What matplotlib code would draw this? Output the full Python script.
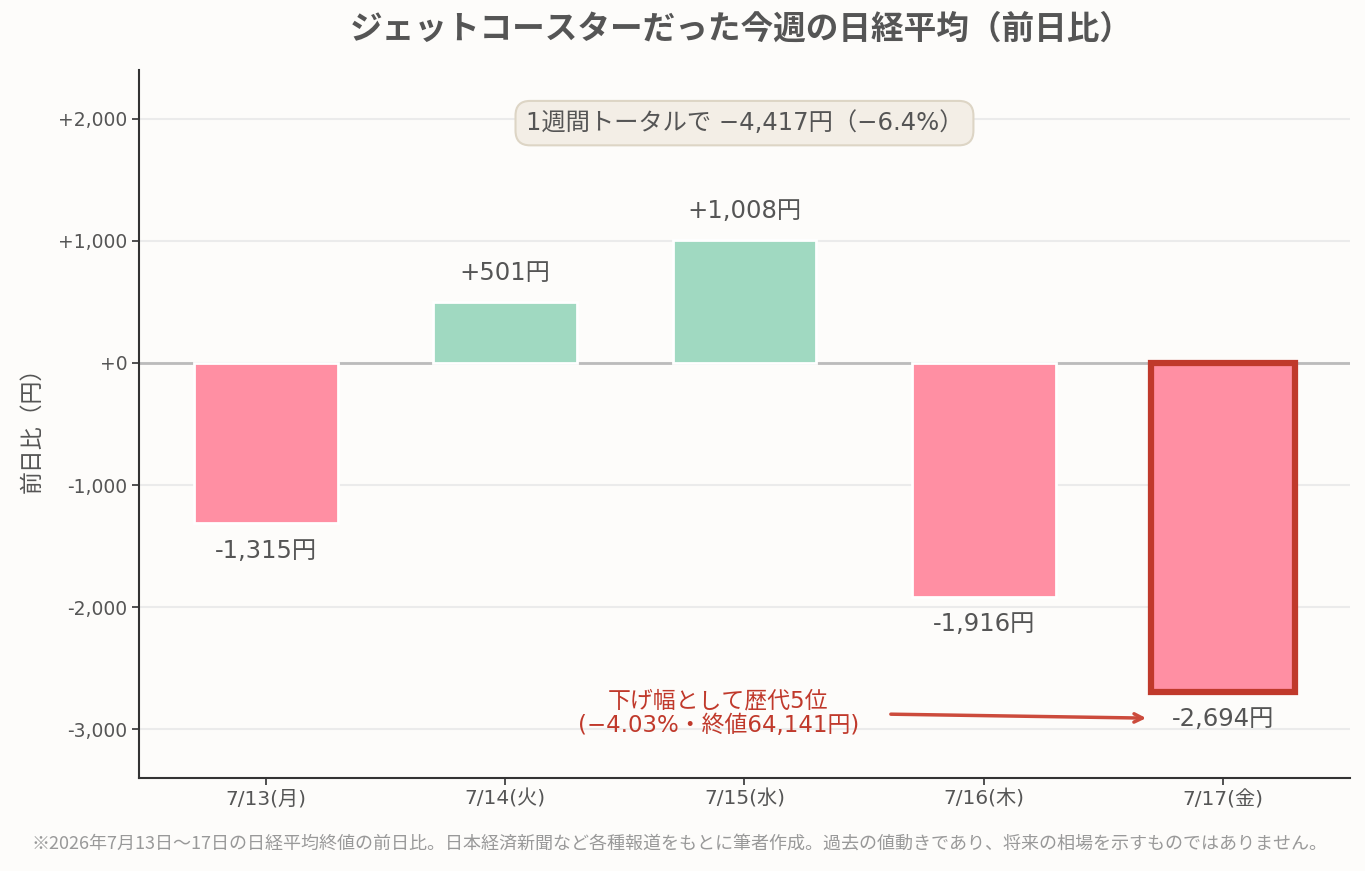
import matplotlib
matplotlib.use("Agg")
import matplotlib.pyplot as plt
from matplotlib.ticker import FuncFormatter

plt.rcParams['font.family'] = ['DejaVu Sans', 'Noto Sans CJK JP']
CJK = ['Noto Sans CJK JP', 'DejaVu Sans']
MIX = ['DejaVu Sans', 'Noto Sans CJK JP']

days = ["7/13(月)", "7/14(火)", "7/15(水)", "7/16(木)", "7/17(金)"]
changes = [-1315, 501, 1008, -1916, -2694]
value_labels = ["-1,315円", "+501円", "+1,008円", "-1,916円", "-2,694円"]
y_ticks = [-3000, -2000, -1000, 0, 1000, 2000]

bg = "#FDFCFA"
pink = "#FF8FA3"
green = "#A0D9C1"
red = "#C0392B"
text_c = "#555555"

fig = plt.figure(figsize=(13.65, 8.71), dpi=100, facecolor=bg)
ax = fig.add_axes([0.1018, 0.1068, 0.8872, 0.8128], facecolor=bg)

x = list(range(len(days)))
colors = [green if v > 0 else pink for v in changes]
ax.axhline(0, color="#BBBBBB", lw=2, zorder=1)
bars = ax.bar(x, changes, width=0.6, color=colors, edgecolor="white", linewidth=2, zorder=2)
last = bars[-1]
last.set_edgecolor(red)
last.set_linewidth(4.5)

for xi, v, lab in zip(x, changes, value_labels):
    if v >= 0:
        ax.annotate(lab, (xi, v), xytext=(0, 12), textcoords="offset points",
                    ha="center", va="bottom", fontsize=17.5, color=text_c)
    else:
        ax.annotate(lab, (xi, v), xytext=(0, -11), textcoords="offset points",
                    ha="center", va="top", fontsize=17.5, color=text_c)

ax.set_xlim(-0.53, 4.53)
ax.set_ylim(-3400, 2400)
ax.set_yticks(y_ticks)
ax.yaxis.set_major_formatter(FuncFormatter(lambda v, p: (f"+{int(v):,}" if v >= 0 else f"{int(v):,}")))
ax.set_xticks(x)
ax.set_xticklabels(days)
ax.tick_params(axis="y", labelsize=13.5, colors=text_c, length=5, width=1.2)
ax.tick_params(axis="x", labelsize=14.5, colors=text_c, length=5, width=1.2)
ax.tick_params(axis="both", color="#333333")
ax.grid(axis="y", color="#EBEBEB", lw=1.5, zorder=0)
ax.set_axisbelow(True)
for s in ["top", "right"]:
    ax.spines[s].set_visible(False)
for s in ["left", "bottom"]:
    ax.spines[s].set_color("#333333")
    ax.spines[s].set_linewidth(1.5)

ax.set_ylabel("前日比（円）", fontsize=16.5, color=text_c, labelpad=10, family=CJK)

fig.text(0.543, 0.967, "ジェットコースターだった今週の日経平均（前日比）", ha="center", va="center",
         fontsize=23.5, fontweight="bold", color=text_c, family=CJK)

ax.text(2, 1965, "1週間トータルで −4,417円（−6.4%）", ha="center", va="center",
        fontsize=17.5, color=text_c,
        bbox=dict(boxstyle="round,pad=0.42,rounding_size=0.6", facecolor="#F3EEE6", edgecolor="#DDD5C5", lw=1.5))

ax.annotate("", xy=(3.69, -2910), xytext=(2.6, -2877),
            arrowprops=dict(arrowstyle="->", color="#CC4B3C", lw=2.5, mutation_scale=15))
ax.text(1.89, -2869, "下げ幅として歴代5位\n(−4.03%・終値64,141円)", ha="center", va="center",
        fontsize=16.5, color=red, linespacing=1.1, family=MIX)

fig.text(0.498, 0.031, "※2026年7月13日〜17日の日経平均終値の前日比。日本経済新聞など各種報道をもとに筆者作成。過去の値動きであり、将来の相場を示すものではありません。",
         ha="center", va="center", fontsize=13, color="#999999", family=CJK)

fig.savefig("out.png", dpi=100, facecolor=bg)
